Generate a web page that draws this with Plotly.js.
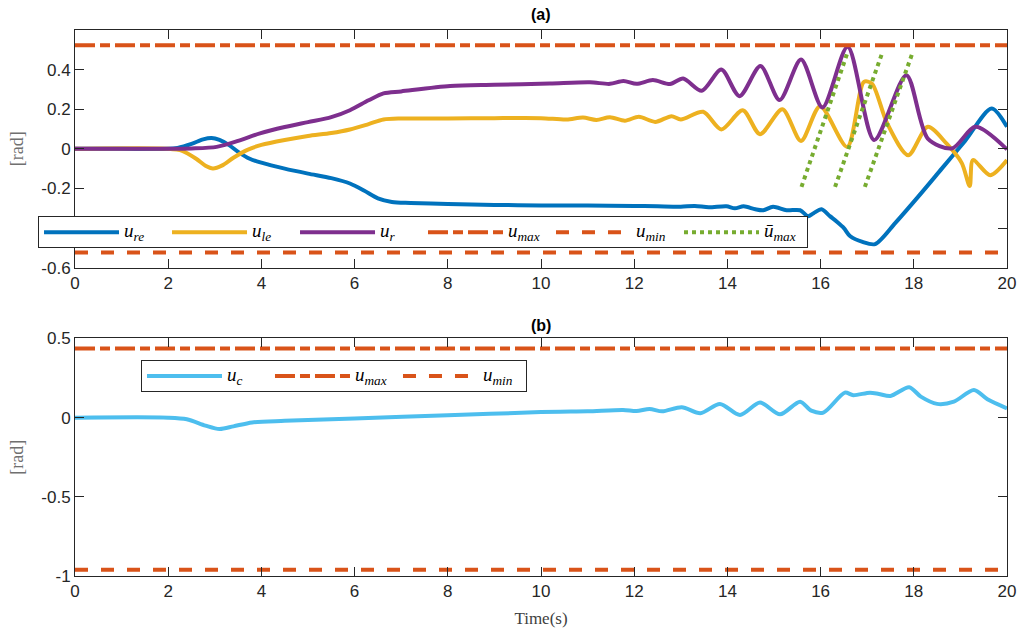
<!DOCTYPE html>
<html>
<head>
<meta charset="utf-8">
<script src="https://cdn.plot.ly/plotly-3.0.1.min.js"></script>
<style>html,body{margin:0;padding:0;background:#fff;}#chart{width:1023px;height:632px;}</style>
</head>
<body>
<div id="chart"></div>
<script>
// ---- Data ----
var t_re = [0,1,2,2.2,2.5,2.75,2.93,3.1,3.3,3.5,3.75,4,4.5,5,5.5,5.9,6.2,6.5,6.8,7.2,8,9,10,11,12,12.5,13,13.3,13.6,13.98,14.16,14.35,14.6,14.77,14.98,15.27,15.56,15.73,15.85,16.02,16.2,16.35,16.5,16.63,16.9,17.17,17.6,18.1,18.6,19.1,19.67,20];
var u_re = [0,0,0,0.005,0.025,0.048,0.055,0.045,0.02,-0.015,-0.05,-0.07,-0.1,-0.125,-0.148,-0.175,-0.21,-0.25,-0.268,-0.273,-0.279,-0.283,-0.286,-0.286,-0.288,-0.29,-0.292,-0.288,-0.295,-0.29,-0.3,-0.29,-0.305,-0.31,-0.292,-0.31,-0.31,-0.34,-0.325,-0.305,-0.34,-0.368,-0.4,-0.44,-0.47,-0.481,-0.375,-0.24,-0.1,0.04,0.204,0.111];

var t_le = [0,2,2.3,2.6,2.8,2.96,3.15,3.4,3.7,4,4.5,5,5.5,5.9,6.3,6.62,7,8,9,10,10.55,10.9,11.19,11.48,11.8,12.1,12.45,12.8,13.0,13.48,13.87,14.33,14.7,15.18,15.58,15.99,16.57,16.93,17.1,17.43,17.88,18.3,18.7,19.03,19.2,19.27,19.64,20];
var u_le = [0,0,-0.01,-0.05,-0.085,-0.099,-0.085,-0.045,-0.005,0.02,0.045,0.065,0.08,0.098,0.125,0.148,0.153,0.153,0.155,0.155,0.148,0.158,0.146,0.16,0.142,0.162,0.136,0.165,0.148,0.187,0.098,0.195,0.074,0.2,0.04,0.215,0.01,0.338,0.33,0.128,-0.032,0.111,0.027,-0.072,-0.188,-0.057,-0.133,-0.057];

var t_r = [0,2,2.5,3.04,3.5,3.97,4.5,5,5.5,5.9,6.3,6.62,7,8.05,9,10.19,11.05,11.48,11.77,12.05,12.4,12.77,13.05,13.45,13.87,14.26,14.71,15.12,15.58,16.04,16.58,17.15,17.84,18.3,18.82,19.32,20];
var u_r = [0,0,0.002,0.01,0.04,0.078,0.11,0.135,0.16,0.195,0.245,0.28,0.29,0.317,0.323,0.33,0.336,0.328,0.343,0.328,0.347,0.327,0.355,0.293,0.40,0.266,0.418,0.246,0.451,0.209,0.515,0.044,0.372,0.052,0.002,0.111,-0.003];

var u_max_a = 0.5236;
var u_min_a = -0.5236;

// three dotted \bar{u}_max segments: [t_start, t_end], [v_start, v_end]
var ubar_t = [[15.59,16.59],[16.31,17.33],[16.95,17.98]];
var ubar_v = [[-0.192,0.495],[-0.192,0.49],[-0.192,0.49]];

var t_c = [0,2,2.4,2.8,3.1,3.4,3.8,4.5,6,8,10,10.41,11,11.76,12.05,12.33,12.6,13.02,13.42,13.84,14.27,14.7,15.13,15.56,15.8,16.06,16.52,16.7,17.06,17.25,17.5,17.9,18.15,18.5,18.86,19.29,19.58,20];
var u_c = [0,0,-0.01,-0.05,-0.072,-0.055,-0.03,-0.02,-0.005,0.015,0.035,0.038,0.04,0.049,0.042,0.055,0.04,0.066,0.028,0.087,0.017,0.095,0.021,0.101,0.044,0.032,0.158,0.142,0.158,0.15,0.137,0.192,0.133,0.087,0.101,0.175,0.116,0.059];
var u_max_b = 0.4363;
var u_min_b = -0.9599;

var xTicks = [0,2,4,6,8,10,12,14,16,18,20];
var yTicksA = [-0.6,-0.4,-0.2,0,0.2,0.4];
var yTextA = ["-0.6","-0.4","-0.2","0","0.2","0.4"];
var yTicksB = [-1,-0.5,0,0.5];
var yTextB = ["-1","-0.5","0","0.5"];

// ---- Styles ----
var C = {re:'#0072BD', le:'#EDB120', r:'#7E2F8E', lim:'#D95319', bar:'#77AC30', c:'#4DBEEE'};
var LW = 4;
var sp = {shape:'spline', smoothing:0.8};

function lbl(base, sub){
  return '<span style="font-size:19px"><i>' + base + '<sub>' + sub + '</sub></i></span>';
}
function lineTrace(x, y, color, name, ax, leg, extra){
  return {x:x, y:y, mode:'lines', name:name, xaxis:ax[0], yaxis:ax[1], legend:leg,
    line:Object.assign({color:color, width:LW}, extra||{}), hoverinfo:'skip'};
}

var data = [];
data.push(lineTrace(t_re, u_re, C.re, lbl('u','re'), ['x','y'], 'legend', sp));
data.push(lineTrace(t_le, u_le, C.le, lbl('u','le'), ['x','y'], 'legend', sp));
data.push(lineTrace(t_r, u_r, C.r, lbl('u','r'), ['x','y'], 'legend', sp));
data.push(lineTrace([0,20], [u_max_a,u_max_a], C.lim, lbl('u','max'), ['x','y'], 'legend', {dash:'20px,5px,10px,5px'}));
data.push(lineTrace([0,20], [u_min_a,u_min_a], C.lim, lbl('u','min'), ['x','y'], 'legend', {dash:'13px,13px'}));
for (var i=0;i<ubar_t.length;i++){
  var tr = lineTrace(ubar_t[i], ubar_v[i], C.bar, lbl('ū','max'), ['x','y'], 'legend', {dash:'4px,4px'});
  tr.legendgroup = 'ubar';
  tr.showlegend = (i===0);
  data.push(tr);
}
data.push(lineTrace(t_c, u_c, C.c, lbl('u','c'), ['x2','y2'], 'legend2', sp));
data.push(lineTrace([0,20], [u_max_b,u_max_b], C.lim, lbl('u','max'), ['x2','y2'], 'legend2', {dash:'20px,5px,10px,5px'}));
data.push(lineTrace([0,20], [u_min_b,u_min_b], C.lim, lbl('u','min'), ['x2','y2'], 'legend2', {dash:'13px,13px'}));

var axCol = '#262626';
var tickFont = {family:'Liberation Sans, Arial, sans-serif', size:17, color:axCol};
function xAxis(anchor, title){
  var a = {range:[0,20], tickvals:xTicks, ticktext:xTicks.map(String), ticks:'inside', ticklen:9, tickcolor:axCol,
    showline:true, linecolor:axCol, linewidth:1, mirror:'ticks', showgrid:false, zeroline:false,
    tickfont:tickFont, anchor:anchor, fixedrange:true};
  if (title) a.title = {text:title, font:{family:'Liberation Serif, Times New Roman, serif', size:17, color:'#404040'}, standoff:11};
  return a;
}
function yAxis(anchor, domain, range, tv, tt){
  return {range:range, domain:domain, tickvals:tv, ticktext:tt, ticks:'inside', ticklen:9, tickcolor:axCol,
    showline:true, linecolor:axCol, linewidth:1, mirror:'ticks', showgrid:false, zeroline:false,
    tickfont:tickFont, anchor:anchor, fixedrange:true,
    title:{text:'[rad]', font:{family:'Liberation Serif, Times New Roman, serif', size:18, color:'#707070'}, standoff:12}};
}

var legFont = {family:'Liberation Serif, Times New Roman, serif', size:13, color:'#000'};
var layout = {
  width:1023, height:632,
  margin:{l:75, r:16, t:30, b:56},
  paper_bgcolor:'#fff', plot_bgcolor:'#fff',
  xaxis: xAxis('y'),
  yaxis: yAxis('x', [0.5647,1], [-0.6,0.6], yTicksA, yTextA),
  xaxis2: xAxis('y2', 'Time(s)'),
  yaxis2: yAxis('x2', [0,0.435], [-1,0.5], yTicksB, yTextB),
  legend: {orientation:'h', x:0.7865, y:0.659, xanchor:'right', yanchor:'top', bgcolor:'#fff',
    bordercolor:axCol, borderwidth:1, font:legFont, itemwidth:75, traceorder:'normal',
    entrywidth:38, entrywidthmode:'pixels'},
  legend2: {orientation:'h', x:0.0708, y:0.3956, xanchor:'left', yanchor:'top', bgcolor:'#fff',
    bordercolor:axCol, borderwidth:1, font:legFont, itemwidth:75, traceorder:'normal',
    entrywidth:38, entrywidthmode:'pixels'},
  annotations:[
    {text:'<b>(a)</b>', xref:'paper', yref:'paper', x:0.5, y:1.0275, xanchor:'center', yanchor:'middle', showarrow:false,
      font:{family:'Liberation Sans, Arial, sans-serif', size:16, color:'#000'}},
    {text:'<b>(b)</b>', xref:'paper', yref:'paper', x:0.5, y:0.4597, xanchor:'center', yanchor:'middle', showarrow:false,
      font:{family:'Liberation Sans, Arial, sans-serif', size:16, color:'#000'}}
  ],
  showlegend:true
};

Plotly.newPlot('chart', data, layout, {displayModeBar:false, staticPlot:true});
</script>
</body>
</html>
